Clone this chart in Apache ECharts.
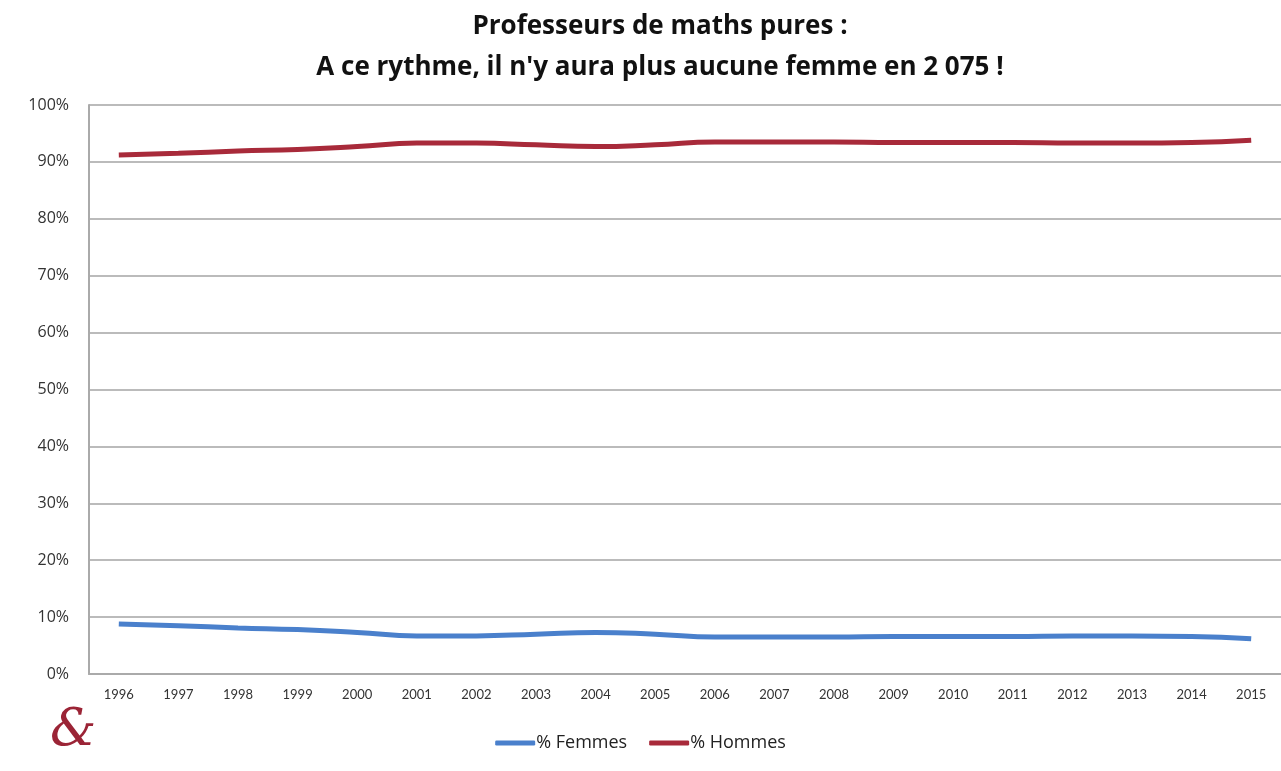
<!DOCTYPE html>
<html><head><meta charset="utf-8">
<script src="https://cdn.jsdelivr.net/npm/echarts@6/dist/echarts.min.js"></script>
<style>html,body{margin:0;padding:0;background:#fff}#c{width:1281px;height:771px}</style>
</head><body><div id="c"></div>
<script>
const years = ['1996','1997','1998','1999','2000','2001','2002','2003','2004','2005','2006','2007','2008','2009','2010','2011','2012','2013','2014','2015'];
const femmes = [8.8,8.5,8.1,7.8,7.3,6.7,6.7,7.0,7.3,7.0,6.5,6.5,6.5,6.6,6.6,6.6,6.7,6.7,6.6,6.2];
const hommes = [91.2,91.5,91.9,92.2,92.7,93.3,93.3,93.0,92.7,93.0,93.5,93.5,93.5,93.4,93.4,93.4,93.3,93.3,93.4,93.8];
const titleLines = ['Professeurs de maths pures :', "A ce rythme, il n'y aura plus aucune femme en 2 075 !"];

const chart = echarts.init(document.getElementById('c'));
chart.setOption({
  backgroundColor: '#fff',
  animation: false,
  title: {
    text: titleLines.join('\n'),
    left: 655, top: 1, textAlign: 'center',
    textStyle: {fontFamily: 'Open Sans', fontWeight: 'bold', fontSize: 26, lineHeight: 41, color: '#111'}
  },
  legend: {
    bottom: 14, left: 'center',
    itemWidth: 40, itemHeight: 5, itemGap: 22,
    icon: 'roundRect',
    textStyle: {fontFamily: 'Open Sans', fontSize: 18, color: '#222', padding: [0,0,0,-4]},
    data: ['% Femmes', '% Hommes']
  },
  grid: {left: 89, right: 0, top: 105, bottom: 97},
  xAxis: {
    type: 'category', data: years, boundaryGap: true,
    axisLine: {lineStyle: {color: '#aaa', width: 2}},
    axisTick: {show: false},
    axisLabel: {fontFamily: 'Lato', fontSize: 13, color: '#333', margin: 14}
  },
  yAxis: {
    type: 'value', min: 0, max: 100, interval: 10,
    axisLine: {show: true, lineStyle: {color: '#aaa', width: 2}},
    axisTick: {show: false},
    axisLabel: {formatter: '{value}%', fontFamily: 'Open Sans', fontSize: 16, color: '#333', margin: 20},
    splitLine: {lineStyle: {color: '#bbb', width: 2}}
  },
  series: [
    {name: '% Femmes', type: 'line', data: femmes, smooth: true, symbol: 'none',
     lineStyle: {width: 5, color: '#4a80cc'}, itemStyle: {color: '#4a80cc'}},
    {name: '% Hommes', type: 'line', data: hommes, smooth: true, symbol: 'none',
     lineStyle: {width: 5, color: '#a82a3a'}, itemStyle: {color: '#a82a3a'}}
  ],
  graphic: [
    {type: 'text', left: 50, top: 705,
     style: {text: '&', fontFamily: 'DejaVu Serif', fontStyle: 'italic', fontSize: 52, fill: '#9b2436'}}
  ]
});
</script></body></html>
